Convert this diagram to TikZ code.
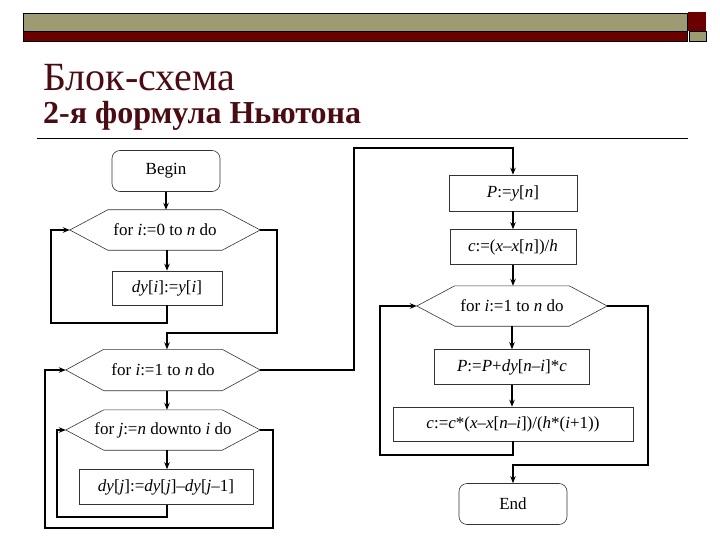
\documentclass[tikz,border=0pt]{standalone}
\usepackage{fontspec}
\setmainfont{Liberation Serif}
\usetikzlibrary{arrows.meta}
\definecolor{olivebar}{HTML}{9C9B72}
\definecolor{redbar}{HTML}{6B0000}
\definecolor{titlecol}{HTML}{4A0C12}
\newcommand{\iv}[1]{\textit{#1}}
\tikzset{
  shapeline/.style={draw=black!80, line width=0.6pt},
  box/.style={shapeline, rectangle, inner sep=0pt, font=\fontsize{17}{20}\selectfont},
  term/.style={box, rounded corners=8pt},
  hexnode/.style={rectangle, inner sep=0pt, font=\fontsize{17}{20}\selectfont},
  conn/.style={draw=black, line width=1.1pt, -{Stealth[length=7pt,width=5.5pt]}},
  plain/.style={draw=black, line width=1.1pt},
}
\begin{document}
\begin{tikzpicture}[x=1pt,y=-1pt]
\useasboundingbox (0,0) rectangle (720,540);
% header bars
\fill[olivebar] (23,13) rectangle (687,31);
\fill[redbar] (23,31) rectangle (687,41);
\draw[black, line width=0.4pt] (23,13) rectangle (687,41);
\draw[black, line width=0.4pt] (23,31) -- (687,31);
\fill[redbar] (688,12) rectangle (706,31);
\fill[olivebar] (689,31) rectangle (706,41);
\draw[black, line width=0.4pt] (689,31) rectangle (706,41);
% titles
\node[anchor=base west, inner sep=0pt, text=titlecol, font=\fontsize{40}{44}\selectfont] (t1) at (43,91) {Блок-схема};
\node[anchor=base west, inner sep=0pt, text=titlecol, font=\bfseries\fontsize{32}{35}\selectfont] (t2) at (43,124) {2-я формула Ньютона};
\draw[black, line width=0.8pt] (37,138) -- (688,138);

% left column
\node[term, minimum width=108, minimum height=41] (begin) at (166,171) {Begin};
\node[hexnode, minimum width=190, minimum height=40] (h1) at (165,230) {for \iv{i}:=0 to \iv{n} do};
\node[box, minimum width=110, minimum height=34] (b1) at (167,288) {\iv{dy}[\iv{i}]:=\iv{y}[\iv{i}]};
\node[hexnode, minimum width=194, minimum height=41] (h2) at (163,370) {for \iv{i}:=1 to \iv{n} do};
\node[hexnode, minimum width=194, minimum height=40] (h3) at (163,430) {for \iv{j}:=\iv{n} downto \iv{i} do};
\node[box, minimum width=174, minimum height=35] (b2) at (166,487) {\iv{dy}[\iv{j}]:=\iv{dy}[\iv{j}]–\iv{dy}[\iv{j}–1]};

% right column
\node[box, minimum width=128, minimum height=36] (p1) at (513,193) {\iv{P}:=\iv{y}[\iv{n}]};
\node[box, minimum width=126, minimum height=35] (c1) at (513,247) {\iv{c}:=(\iv{x}–\iv{x}[\iv{n}])/\iv{h}};
\node[hexnode, minimum width=190, minimum height=40] (h4) at (512,306) {for \iv{i}:=1 to \iv{n} do};
\node[box, minimum width=155, minimum height=35] (b3) at (512,367) {\iv{P}:=\iv{P}+\iv{dy}[\iv{n}–\iv{i}]*\iv{c}};
\node[box, minimum width=240, minimum height=34] (b4) at (513,424) {\iv{c}:=\iv{c}*(\iv{x}–\iv{x}[\iv{n}–\iv{i}])/(\iv{h}*(\iv{i}+1))};
\node[term, minimum width=108, minimum height=41] (end) at (513,504) {End};

% hexagon outlines
\foreach \n in {h1,h2,h3,h4}
  \draw[shapeline] (\n.west) -- ([xshift=38pt]\n.north west) -- ([xshift=-38pt]\n.north east)
    -- (\n.east) -- ([xshift=-38pt]\n.south east) -- ([xshift=38pt]\n.south west) -- cycle;

% bend points
\coordinate (lA) at (51,323);
\coordinate (xA) at (277,333);
\coordinate (lC) at (57,517);
\coordinate (xC) at (273,528);
\coordinate (lB) at (45,528);
\coordinate (xB) at (354,148);
\coordinate (lD) at (380,455);
\coordinate (xD) at (648,465);

% connectors left
\draw[conn] (begin.south) -- (begin.south |- h1.north);
\draw[conn] (h1.south -| b1.north) -- (b1.north);
\draw[conn] (b1.south) |- (lA) |- (h1.west);
\draw[conn] (h1.east) -| (xA) -| (h2.north -| b1.north);
\draw[conn] (h2.south -| b1.north) -- (h3.north -| b1.north);
\draw[conn] (h3.south -| b1.north) -- (b2.north -| b1.north);
\draw[conn] (b2.south -| b1.north) |- (lC) |- (h3.west);
\draw[conn] (h3.east) -| (xC) -- (lB) |- (h2.west);
\draw[conn] (h2.east) -| (xB) -| (p1.north);

% connectors right
\draw[conn] (p1.south) -- (c1.north);
\draw[conn] (c1.south) -- (c1.south |- h4.north);
\draw[conn] (h4.south -| b3.north) -- (b3.north);
\draw[conn] (b3.south) -- (b3.south |- b4.north);
\draw[conn] (b4.south) |- (lD) |- (h4.west);
\draw[conn] (h4.east) -| (xD) -| (end.north);
\end{tikzpicture}
\end{document}
